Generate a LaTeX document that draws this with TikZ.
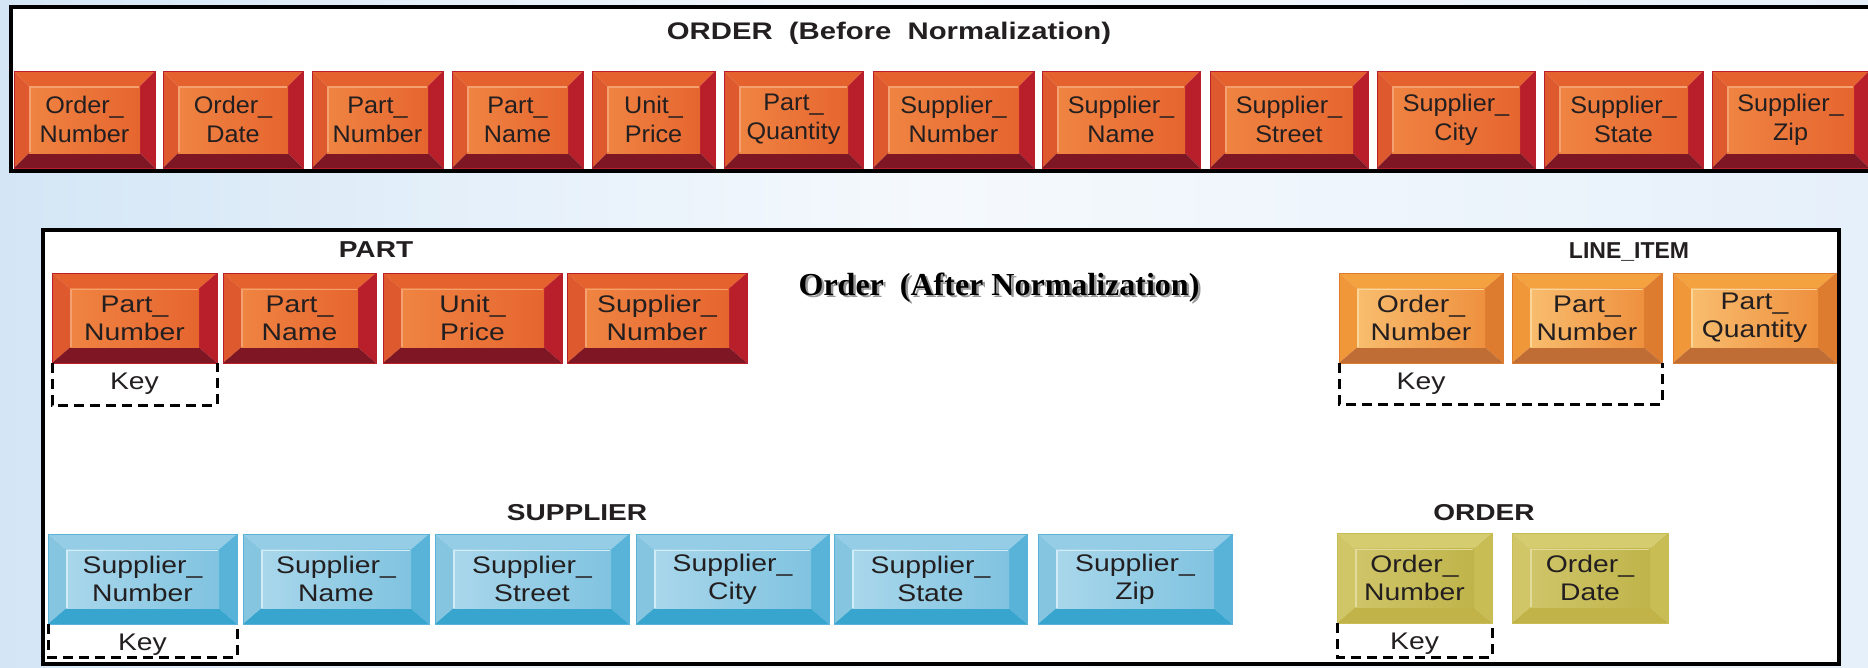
\documentclass[tikz,border=0pt]{standalone}
\usepackage{fontspec}
\setmainfont{Liberation Sans}
\newfontfamily\attrfont[FakeStretch=1.05]{Liberation Sans}
\newfontfamily\lowfont[FakeStretch=1.18]{Liberation Sans}
\newfontfamily\headfont[FakeStretch=1.22]{Liberation Sans}
\newfontfamily\serifhead{Liberation Serif}

% palettes: T top bevel, L left, R right, B bottom, F1/F2 face gradient, H highlight
\definecolor{rdT}{HTML}{E5622F}\definecolor{rdL}{HTML}{DE592E}
\definecolor{rdR}{HTML}{B91E2B}\definecolor{rdB}{HTML}{7E1623}
\definecolor{rdF1}{HTML}{EF8442}\definecolor{rdF2}{HTML}{E6652F}
\definecolor{rdH}{HTML}{F4A070}
\definecolor{blT}{HTML}{95CDE6}\definecolor{blL}{HTML}{86C5E0}
\definecolor{blR}{HTML}{59B3D9}\definecolor{blB}{HTML}{38A5CF}
\definecolor{blF1}{HTML}{A9D7EB}\definecolor{blF2}{HTML}{80C3E0}
\definecolor{blH}{HTML}{D2ECF7}
\definecolor{amT}{HTML}{F4A240}\definecolor{amL}{HTML}{F0973A}
\definecolor{amR}{HTML}{DD7C2E}\definecolor{amB}{HTML}{BF6C35}
\definecolor{amF1}{HTML}{F8BD6E}\definecolor{amF2}{HTML}{EE903E}
\definecolor{amH}{HTML}{FBD59A}
\definecolor{olT}{HTML}{D5CC70}\definecolor{olL}{HTML}{D0C667}
\definecolor{olR}{HTML}{C8BC55}\definecolor{olB}{HTML}{C1B347}
\definecolor{olF1}{HTML}{CFC569}\definecolor{olF2}{HTML}{BFB44A}
\definecolor{olH}{HTML}{E3DB9C}
\definecolor{txt}{HTML}{231F20}
\definecolor{bgL}{HTML}{D4E6F6}
\definecolor{bgM}{HTML}{F5F9FD}
\definecolor{bgR}{HTML}{E6F0FA}

% bevel sizes (horizontal / vertical)
\def\bvx{15pt}\def\bvy{15pt}

\newcommand\bevelpaint[1]{%
  \coordinate (bvnw) at (path picture bounding box.north west);
  \coordinate (bvne) at (path picture bounding box.north east);
  \coordinate (bvse) at (path picture bounding box.south east);
  \coordinate (bvsw) at (path picture bounding box.south west);
  \coordinate (bvNW) at ([shift={(\bvx,-\bvy)}]bvnw);
  \coordinate (bvNE) at ([shift={(-\bvx,-\bvy)}]bvne);
  \coordinate (bvSE) at ([shift={(-\bvx,\bvy)}]bvse);
  \coordinate (bvSW) at ([shift={(\bvx,\bvy)}]bvsw);
  \fill[#1T] (bvnw) -- (bvne) -- (bvNE) -- (bvNW) -- cycle;
  \fill[#1L] (bvnw) -- (bvNW) -- (bvSW) -- (bvsw) -- cycle;
  \fill[#1R] (bvne) -- (bvse) -- (bvSE) -- (bvNE) -- cycle;
  \fill[#1B] (bvsw) -- (bvSW) -- (bvSE) -- (bvse) -- cycle;
  \shade[left color=#1F1, right color=#1F2] (bvNW) rectangle (bvSE);
  \draw[#1H, line width=1.5pt] ([shift={(0.75pt,0.75pt)}]bvSW) |- ([shift={(-0.75pt,-0.75pt)}]bvNE);
}

\tikzset{
  frame/.style={draw=black, line width=4pt, fill=white},
  attr/.style={draw=#1R, line width=0.8pt, path picture={\bevelpaint{#1}},
    inner sep=0pt, outer sep=0pt, anchor=north west, align=center, text=txt},
  keyline/.style={draw=black, line width=3pt, dash pattern=on 10pt off 6pt},
  keytext/.style={text=txt, inner sep=0pt},
  heading/.style={font=\headfont\bfseries\fontsize{23}{27}\selectfont, text=txt, inner sep=0pt, anchor=base},
}

% name, palette, x1, y1, x2, y2, text
\newcommand\attrnode[7]{%
  \node[attr=#2, minimum width={(#5-#3)*1pt}, minimum height={(#6-#4)*1pt}] (#1) at (#3,#4) {#7};}

\begin{document}
\begin{tikzpicture}[x=1pt,y=-1pt]
\useasboundingbox (0,0) rectangle (1868,667);
\shade[left color=bgL, right color=bgR, middle color=bgM] (0,0) rectangle (1868,667);

% ---------- un-normalized table ----------
\draw[frame] (11,6.5) rectangle (1885,170.5);
\node[font=\headfont\bfseries\fontsize{24}{28}\selectfont, text=txt, inner sep=0pt, anchor=base]
  (before) at (889,39) {ORDER~~(Before~~Normalization)};

\begin{scope}[every node/.append style={font=\attrfont\fontsize{24}{29}\selectfont}]
\attrnode{o1}{rd}{14}{71}{155}{168}{Order\_\\Number}
\attrnode{o2}{rd}{163}{71}{303}{168}{Order\_\\Date}
\attrnode{o3}{rd}{312}{71}{443}{168}{Part\_\\Number}
\attrnode{o4}{rd}{452}{71}{583}{168}{Part\_\\Name}
\attrnode{o5}{rd}{592}{71}{715}{168}{Unit\_\\Price}
\attrnode{o6}{rd}{724}{71}{863}{168}{Part\_\\Quantity}
\attrnode{o7}{rd}{873}{71}{1034}{168}{Supplier\_\\Number}
\attrnode{o8}{rd}{1042}{71}{1200}{168}{Supplier\_\\Name}
\attrnode{o9}{rd}{1210}{71}{1368}{168}{Supplier\_\\Street}
\attrnode{o10}{rd}{1377}{71}{1535}{168}{Supplier\_\\City}
\attrnode{o11}{rd}{1544}{71}{1703}{168}{Supplier\_\\State}
\attrnode{o12}{rd}{1712}{71}{1869}{168}{Supplier\_\\Zip}
\end{scope}

% ---------- normalized tables ----------
\draw[frame] (43,230) rectangle (1839,664);
\node[font=\serifhead\bfseries\fontsize{32}{36}\selectfont, text=black!40, inner sep=0pt, anchor=base]
  (aftershadow) at (1001.5,297.5) {Order~~(After Normalization)};
\node[font=\serifhead\bfseries\fontsize{32}{36}\selectfont, text=black, inner sep=0pt, anchor=base]
  (after) at (999,295) {Order~~(After Normalization)};

\node[heading] (hpart) at (376,257) {PART};
\node[heading, font=\bfseries\fontsize{23}{27}\selectfont] (hline) at (1629,258) {LINE\_ITEM};
\node[heading] (hsupp) at (577,520) {SUPPLIER};
\node[heading] (hord) at (1484,520) {ORDER};

\def\bvx{18pt}\def\bvy{15.5pt}
\begin{scope}[every node/.append style={font=\lowfont\fontsize{24}{28}\selectfont}]
\attrnode{p1}{rd}{52}{273}{217}{363}{Part\_\\Number}
\attrnode{p2}{rd}{223}{273}{376}{363}{Part\_\\Name}
\attrnode{p3}{rd}{383}{273}{562}{363}{Unit\_\\Price}
\attrnode{p4}{rd}{567}{273}{747}{363}{Supplier\_\\Number}

\attrnode{l1}{am}{1339}{273}{1503}{363}{Order\_\\Number}
\attrnode{l2}{am}{1512}{273}{1662}{363}{Part\_\\Number}
\attrnode{l3}{am}{1673}{273}{1836}{363}{Part\_\\Quantity}

\attrnode{s1}{bl}{48}{534}{237}{624}{Supplier\_\\Number}
\attrnode{s2}{bl}{243}{534}{429}{624}{Supplier\_\\Name}
\attrnode{s3}{bl}{435}{534}{629}{624}{Supplier\_\\Street}
\attrnode{s4}{bl}{636}{534}{829}{624}{Supplier\_\\City}
\attrnode{s5}{bl}{834}{534}{1027}{624}{Supplier\_\\State}
\attrnode{s6}{bl}{1038}{534}{1232}{624}{Supplier\_\\Zip}

\attrnode{r1}{ol}{1337}{533}{1492}{623}{Order\_\\Number}
\attrnode{r2}{ol}{1512}{533}{1668}{623}{Order\_\\Date}

% primary keys
\node[keytext] (kpart) at ([yshift=-21pt]p1.south) {Key};
\node[keytext] (kline) at ([yshift=-21pt]l1.south) {Key};
\node[keytext] (ksupp) at ([yshift=-21pt]s1.south) {Key};
\node[keytext] (kord) at ([yshift=-21pt]r1.south) {Key};
\end{scope}
\draw[keyline] (p1.south west) -- ++(0,42) -| (p1.south east);
\draw[keyline] (l1.south west) -- ++(0,41) -| (l2.south east);
\draw[keyline] (s1.south west) -- ++(0,33) -| (s1.south east);
\draw[keyline] (r1.south west) -- ++(0,34) -| (r1.south east);
\end{tikzpicture}
\end{document}
